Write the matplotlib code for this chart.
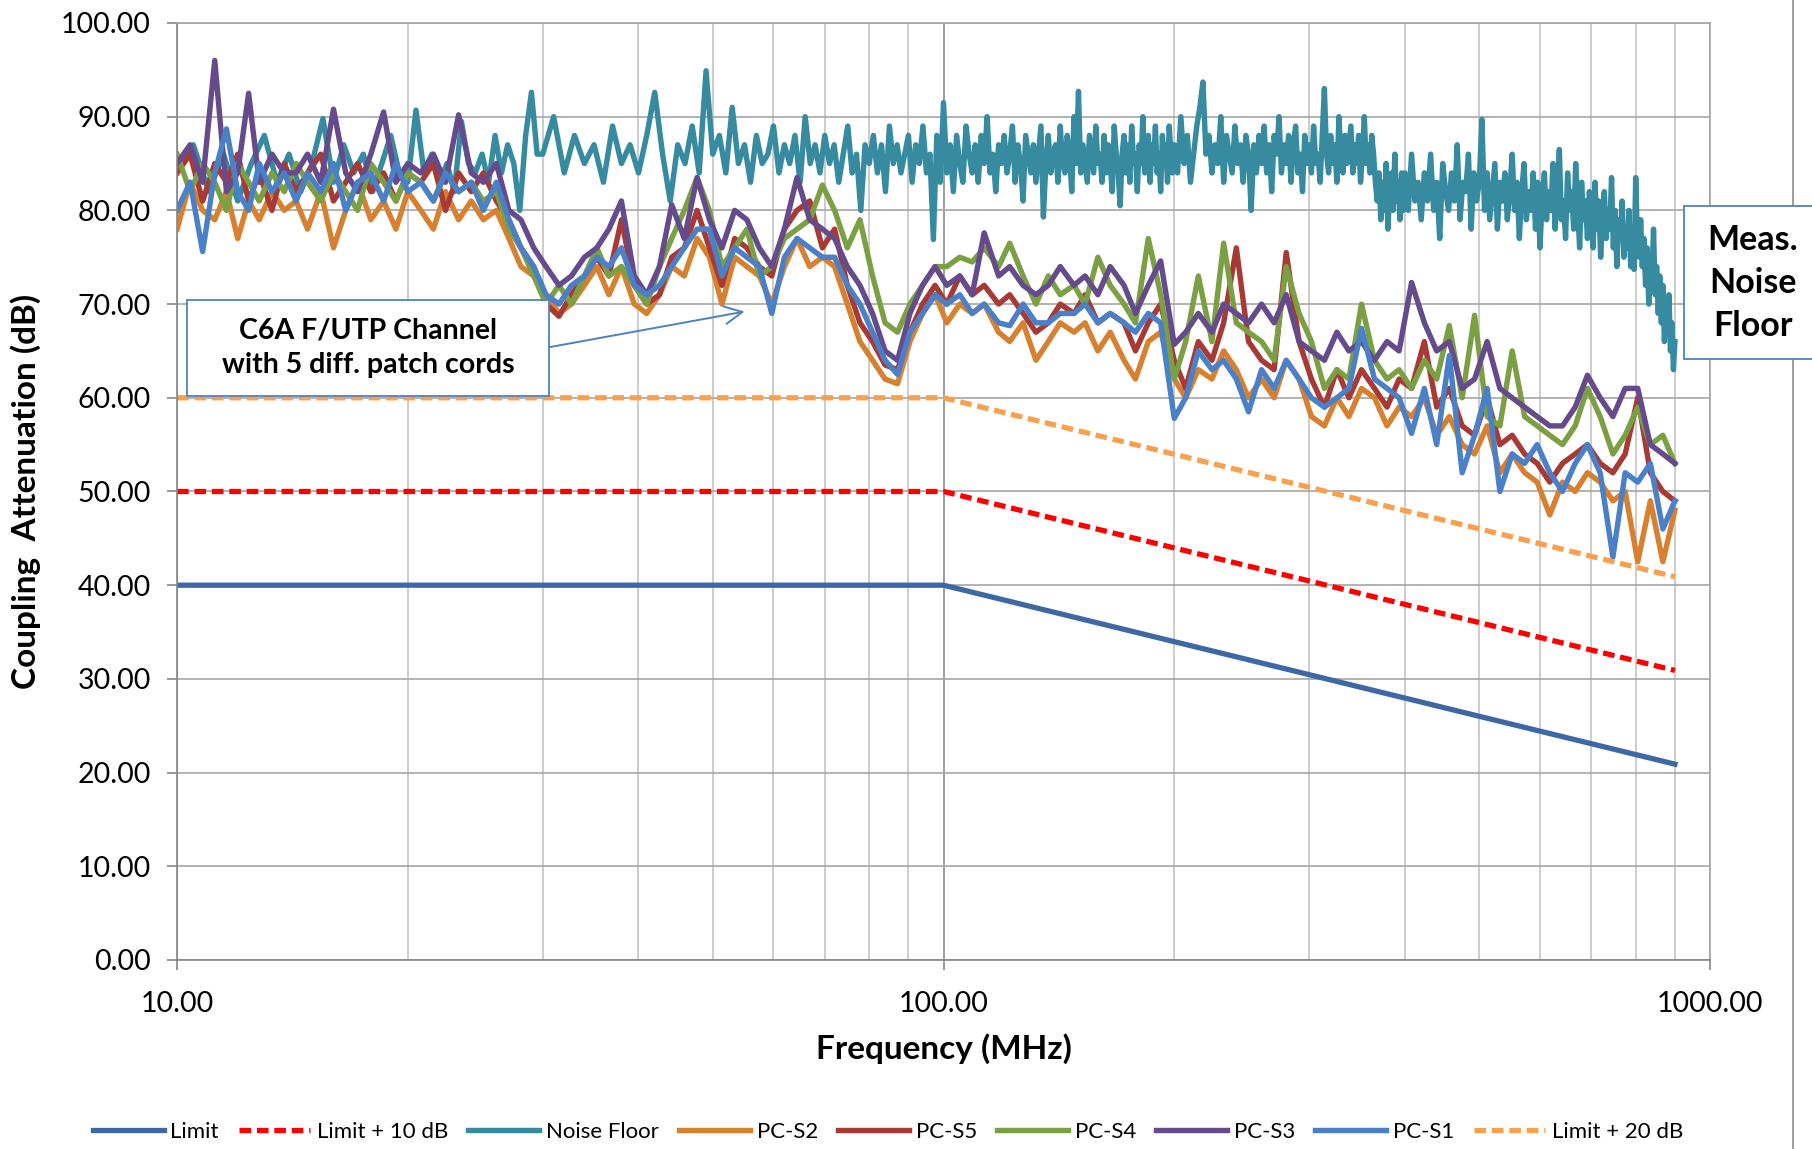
import matplotlib
matplotlib.use("Agg")
import matplotlib.pyplot as plt
from matplotlib.patches import Rectangle
from matplotlib.lines import Line2D
from matplotlib.ticker import FixedLocator, NullFormatter


# Frequency points (MHz) for the patch cord measurements
FREQ_PC = [
    10.0, 10.4, 10.8, 11.2, 11.6, 12.0, 12.4, 12.8, 13.3, 13.8,
    14.3, 14.8, 15.4, 16.0, 16.6, 17.2, 17.9, 18.6, 19.3, 20.0,
    20.8, 21.6, 22.4, 23.3, 24.2, 25.1, 26.1, 27.1, 28.1, 29.2,
    30.3, 31.5, 32.7, 34.0, 35.3, 36.6, 38.0, 39.5, 41.0, 42.6,
    44.2, 45.9, 47.7, 49.5, 51.4, 53.4, 55.4, 57.5, 59.7, 62.0,
    64.4, 66.9, 69.5, 72.1, 74.9, 77.8, 80.8, 83.9, 87.1, 90.4,
    93.9, 97.5, 101, 105, 109, 113, 118, 122, 127, 132,
    137, 142, 148, 153, 159, 165, 172, 178, 185, 192,
    200, 207, 215, 224, 232, 241, 250, 260, 270, 280,
    291, 302, 314, 326, 338, 351, 365, 379, 393, 408,
    424, 440, 457, 475, 493, 512, 532, 552, 573, 595,
    618, 642, 667, 692, 719, 747, 775, 805, 836, 868,
    900,
]

PC_S2 = [
    78, 83, 80, 79, 82, 77, 81, 79, 82, 80,
    81, 78, 82, 76, 80, 83, 79, 81, 78, 82,
    80, 78, 82, 79, 81, 79, 80, 77, 74, 73,
    71, 69, 70, 72, 74, 71, 74, 70, 69, 71,
    74, 73, 77, 75, 70, 75, 74, 73, 70, 74,
    77, 74, 75, 74, 70, 66, 64, 62, 61.5, 66,
    69, 71, 68, 70, 69, 70, 67, 66, 68, 64,
    66, 68, 67, 68, 65, 67, 64, 62, 66, 67,
    62, 60, 63, 62, 65, 63, 60, 62, 60, 64,
    62, 58, 57, 60, 58, 61, 60, 57, 59, 58,
    60, 56, 58, 55, 54, 57, 52, 54, 52, 51,
    47.5, 51, 50, 52, 51, 49, 50, 42.5, 49, 42.5,
    48,
]

PC_S5 = [
    84, 86, 81, 85, 83, 86, 81, 84, 80, 85,
    82, 84, 86, 81, 83, 85, 82, 84, 81, 84,
    83, 85, 80, 84, 82, 84, 81, 79, 76, 74,
    70, 68.7, 71, 73, 75, 73, 79, 72, 70, 71,
    75, 76, 80, 76, 72, 77, 76, 74, 73, 78,
    80, 81, 76, 78, 72, 68, 66, 63.5, 63, 67,
    70, 72, 70, 73, 71, 72, 70, 71, 69, 67,
    68, 70, 69, 71, 68, 69, 68, 65, 68, 70,
    64, 61, 66, 64, 68, 76, 66, 64, 63, 75.5,
    66, 62, 59, 63, 60, 63, 61, 59, 62, 61,
    66, 59, 61, 57, 56, 60, 55, 56, 54, 53,
    51, 53, 54, 55, 53, 52, 54, 60, 52, 50,
    49,
]

PC_S4 = [
    86, 82, 85, 83, 80, 85, 83, 81, 84, 82,
    85, 83, 81, 84, 82, 80, 85, 83, 81, 84,
    83, 81, 84, 82, 83, 81, 82, 78, 76, 73,
    70, 72, 70, 73, 76, 73, 74, 72, 70, 74,
    77, 80, 83.5, 80, 74, 76, 78, 73, 74, 77,
    78, 79, 82.7, 80, 76, 79, 73, 68, 67, 70,
    72, 74, 74, 75, 74.5, 76, 74, 76.5, 73, 70,
    73, 71, 72, 70, 75, 72, 70, 68, 77, 71,
    62, 66, 73, 66, 76.5, 68, 67, 66, 64, 74,
    69, 66, 61, 63, 62, 70, 64, 62, 63, 61,
    64, 62, 67.7, 60, 68.8, 58, 57, 65, 58, 57,
    56, 55, 57, 61, 58, 54, 56, 59, 55, 56,
    53,
]

PC_S3 = [
    85, 87, 83, 96, 82, 84, 92.5, 83, 86, 84,
    84, 86, 83, 90.8, 84, 82, 86, 90.5, 83, 85,
    84, 86, 83, 90.2, 84, 83, 85, 80, 79, 76,
    74, 72, 73, 75, 76, 78, 81, 73, 71, 74,
    80.6, 77, 83.5, 79, 76, 80, 79, 76, 74, 78,
    83.5, 79, 78, 77, 74, 72, 69, 65, 64, 69,
    72, 74, 72, 73, 71, 77.6, 73, 74, 72, 71,
    72, 74, 72, 73, 71, 74, 72, 69, 72, 74.6,
    65.7, 67, 69, 67, 70, 69, 68, 70, 68, 71,
    66, 65, 64, 67, 65, 66, 64, 66, 65, 72.3,
    68, 65, 66, 61, 62, 66, 61, 60, 59, 58,
    57, 57, 59, 62.4, 60, 58, 61, 61, 55, 54,
    53,
]

PC_S1 = [
    80, 83, 75.6, 84, 88.7, 82, 80, 85, 82, 84,
    81, 84, 82, 85, 80, 83, 84, 81, 85, 82,
    83, 81, 84, 82, 83, 80, 83, 79, 76, 74,
    71, 70, 72, 73, 75, 74, 76, 72, 71, 72,
    74, 76, 78, 78, 73, 76, 75, 74, 69, 75,
    77, 76, 75, 75, 72, 70, 67, 64, 62.5, 67,
    69, 71, 70, 71, 69, 70, 68, 67.7, 70, 68,
    68, 69, 69, 70, 68, 69, 68, 67, 69, 68,
    57.8, 60, 65, 63, 64, 62, 58.5, 63, 61, 64,
    62, 60, 59, 60, 61, 67.4, 62, 61, 60, 56.2,
    61, 55, 64.5, 52, 56, 61, 50, 54, 53, 55,
    52, 50, 53, 55, 52, 43, 52, 51, 53, 46,
    49,
]

# Noise floor sweep: 0.5 MHz steps to 30, 1 MHz to 200, 2 MHz to 400, 4 MHz to 900
FREQ_NOISE = [
    10.0, 10.5, 11.0, 11.5, 12.0, 12.5, 13.0, 13.5, 14.0, 14.5,
    15.0, 15.5, 16.0, 16.5, 17.0, 17.5, 18.0, 18.5, 19.0, 19.5,
    20.0, 20.5, 21.0, 21.5, 22.0, 22.5, 23.0, 23.5, 24.0, 24.5,
    25.0, 25.5, 26.0, 26.5, 27.0, 27.5, 28.0, 28.5, 29.0, 29.5,
    30, 31, 32, 33, 34, 35, 36, 37, 38, 39,
    40, 41, 42, 43, 44, 45, 46, 47, 48, 49,
    50, 51, 52, 53, 54, 55, 56, 57, 58, 59,
    60, 61, 62, 63, 64, 65, 66, 67, 68, 69,
    70, 71, 72, 73, 74, 75, 76, 77, 78, 79,
    80, 81, 82, 83, 84, 85, 86, 87, 88, 89,
    90, 91, 92, 93, 94, 95, 96, 97, 98, 99,
    100, 101, 102, 103, 104, 105, 106, 107, 108, 109,
    110, 111, 112, 113, 114, 115, 116, 117, 118, 119,
    120, 121, 122, 123, 124, 125, 126, 127, 128, 129,
    130, 131, 132, 133, 134, 135, 136, 137, 138, 139,
    140, 141, 142, 143, 144, 145, 146, 147, 148, 149,
    150, 151, 152, 153, 154, 155, 156, 157, 158, 159,
    160, 161, 162, 163, 164, 165, 166, 167, 168, 169,
    170, 171, 172, 173, 174, 175, 176, 177, 178, 179,
    180, 181, 182, 183, 184, 185, 186, 187, 188, 189,
    190, 191, 192, 193, 194, 195, 196, 197, 198, 199,
    200, 202, 204, 206, 208, 210, 212, 214, 216, 218,
    220, 222, 224, 226, 228, 230, 232, 234, 236, 238,
    240, 242, 244, 246, 248, 250, 252, 254, 256, 258,
    260, 262, 264, 266, 268, 270, 272, 274, 276, 278,
    280, 282, 284, 286, 288, 290, 292, 294, 296, 298,
    300, 302, 304, 306, 308, 310, 312, 314, 316, 318,
    320, 322, 324, 326, 328, 330, 332, 334, 336, 338,
    340, 342, 344, 346, 348, 350, 352, 354, 356, 358,
    360, 362, 364, 366, 368, 370, 372, 374, 376, 378,
    380, 382, 384, 386, 388, 390, 392, 394, 396, 398,
    400, 404, 408, 412, 416,
    420, 424, 428, 432, 436, 440, 444, 448, 452, 456,
    460, 464, 468, 472, 476, 480, 484, 488, 492, 496,
    500, 504, 508, 512, 516, 520, 524, 528, 532, 536,
    540, 544, 548, 552, 556, 560, 564, 568, 572, 576,
    580, 584, 588, 592, 596, 600, 604, 608, 612, 616,
    620, 624, 628, 632, 636, 640, 644, 648, 652, 656,
    660, 664, 668, 672, 676, 680, 684, 688, 692, 696,
    700, 704, 708, 712, 716, 720, 724, 728, 732, 736,
    740, 744, 748, 752, 756, 760, 764, 768, 772, 776,
    780, 784, 788, 792, 796, 800, 804, 808, 812, 816,
    820, 824, 828, 832, 836, 840, 844, 848, 852, 856,
    860, 864, 868, 872, 876, 880, 884, 888, 892, 896,
    900,
]

NOISE_FLOOR = [
    84, 87, 82, 86, 81, 85, 88, 83, 86, 82,
    85, 89.8, 83, 87, 84, 86, 82, 85, 88, 84,
    83, 90.7, 84, 86, 83, 85, 82, 89.5, 85, 84,
    86, 83, 88, 84, 87, 85, 80, 88, 92.6, 86,
    86, 90, 84, 88, 85, 87, 83, 89, 85, 87,
    84, 88, 92.6, 86, 81, 87, 85, 89, 84, 94.9,
    86, 88, 84, 91, 85, 87, 83, 88, 85, 86,
    89, 84, 87, 85, 88, 83, 90, 85, 87, 84,
    88, 85, 87, 83, 86, 89, 84, 86, 80, 87,
    85, 88, 84, 87, 82, 89, 85, 87, 84, 86,
    88, 83, 87, 85, 89, 84, 86, 76.9, 88, 83,
    91.5, 84, 87, 82, 88, 85, 83, 89, 86, 84,
    87, 83, 88, 85, 90, 84, 86, 82, 87, 85,
    88, 84, 86, 89, 83, 87, 85, 81, 88, 86,
    84, 87, 83, 86, 89, 79.3, 85, 88, 84, 86,
    87, 83, 89, 85, 84, 88, 86, 82, 90, 85,
    92.7, 84, 87, 85, 83, 88, 86, 84, 89, 85,
    86, 83, 88, 84, 87, 85, 82, 89, 86, 84,
    80.5, 86, 88, 84, 87, 83, 89, 85, 86, 82,
    87, 85, 90, 84, 86, 88, 83, 87, 85, 89,
    84, 86, 82, 88, 85, 87, 83, 89, 86, 84,
    87, 84, 90, 85, 88, 83, 86, 89, 91, 93.7,
    86, 88, 84, 87, 85, 90, 83, 88, 86, 84,
    89, 85, 87, 83, 88, 86, 80, 87, 84, 88,
    85, 89, 84, 87, 82, 88, 86, 90, 84, 87,
    85, 88, 83, 87, 89, 84, 86, 82, 88, 85,
    87, 84, 89, 85, 86, 83, 88, 93, 86, 84,
    88, 85, 87, 83, 90, 86, 84, 88, 85, 87,
    89, 84, 87, 85, 88, 83, 86, 90, 85, 87,
    84, 88, 86, 83, 81, 84, 79, 83, 80, 85,
    78, 82, 84, 80, 86, 81, 83, 79, 84, 80,
    84, 80, 86, 81, 83,
    79, 84, 81, 86, 80, 83, 77, 85, 82, 80,
    84, 81, 87, 79, 83, 82, 86, 78, 84, 81,
    83, 89.7, 80, 84, 79, 82, 85, 78, 83, 81,
    84, 79, 82, 86, 80, 83, 77, 82, 85, 79,
    82, 80, 84, 78, 83, 76, 81, 84, 79, 82,
    80, 85, 78, 82, 86.5, 79, 81, 77, 84, 80,
    82, 78, 85, 80, 76, 83, 79, 81, 77, 82,
    80, 76, 83, 78, 81, 75, 79, 82, 77, 80,
    78, 83.5, 76, 80, 74, 79, 77, 81, 75, 78,
    76, 80, 74, 78, 73.7, 83.5, 77, 75, 79, 74,
    77, 72, 76, 70, 75, 73, 78, 71, 74, 69,
    73, 68, 72, 66, 70, 67, 71, 65, 68, 63,
    66,
]

# Limit lines (corner points)
FREQ_LIMIT = [10, 100, 900]
LIMIT = [40, 40, 20.9]
LIMIT_10 = [50, 50, 30.9]
LIMIT_20 = [60, 60, 40.9]

X_TICKS = [10, 100, 1000]
Y_TICKS = [0, 10, 20, 30, 40, 50, 60, 70, 80, 90, 100]


plt.rcParams["font.family"] = ["Lato", "DejaVu Sans"]

fig = plt.figure(figsize=(18.12, 11.49), dpi=100)
ax = fig.add_axes([0.0977, 0.1645, 0.8460, 0.8155])

lw = 3.9
ax.plot(FREQ_LIMIT, LIMIT, color="#3D67A5", lw=3.8, label="Limit")
ax.plot(FREQ_LIMIT, LIMIT_10, color="#FF0000", lw=3.8, dashes=(2.2, 1.1), label="Limit + 10 dB")
ax.plot(FREQ_NOISE, NOISE_FLOOR, color="#378BA1", lw=lw, label="Noise Floor")
ax.plot(FREQ_PC, PC_S2, color="#D7802F", lw=lw, label="PC-S2")
ax.plot(FREQ_PC, PC_S5, color="#A83A35", lw=lw, label="PC-S5")
ax.plot(FREQ_PC, PC_S4, color="#7BA043", lw=lw, label="PC-S4")
ax.plot(FREQ_PC, PC_S3, color="#664B8C", lw=lw, label="PC-S3")
ax.plot(FREQ_PC, PC_S1, color="#4A80C8", lw=lw, label="PC-S1")
ax.plot(FREQ_LIMIT, LIMIT_20, color="#F9A04E", lw=3.8, dashes=(2.2, 1.1), label="Limit + 20 dB")

ax.set_xscale("log")
ax.set_xlim(10, 1000)
ax.set_ylim(0, 100)

ax.xaxis.set_major_locator(FixedLocator(X_TICKS))
ax.set_xticklabels(["%.2f" % v for v in X_TICKS])
minor = [m * d for d in (10, 100) for m in range(2, 10)]
ax.xaxis.set_minor_locator(FixedLocator(minor))
ax.xaxis.set_minor_formatter(NullFormatter())
ax.set_yticks(Y_TICKS)
ax.set_yticklabels(["%.2f" % v for v in Y_TICKS])

ax.grid(True, which="major", axis="y", color="#A6A6A6", lw=1.2)
ax.grid(True, which="major", axis="x", color="#8C8C8C", lw=1.2)
ax.grid(True, which="minor", axis="x", color="#C4C4C4", lw=1.2)
ax.set_axisbelow(True)

for s in ax.spines.values():
    s.set_color("#A6A6A6")
    s.set_linewidth(1.2)
ax.spines["left"].set_color("#868686")
ax.spines["bottom"].set_color("#868686")

ax.tick_params(axis="both", which="major", labelsize=20.5, colors="#868686",
               labelcolor="black", length=7, width=1.2)
ax.tick_params(axis="x", which="major", pad=15)
ax.tick_params(axis="y", which="major", pad=12)
ax.tick_params(axis="x", which="minor", length=0)

ax.set_xlabel("Frequency (MHz)", fontsize=24, fontweight="bold", labelpad=12)
ax.set_ylabel("Coupling  Attenuation (dB)", fontsize=24, fontweight="bold", labelpad=14)

# Annotation box with arrow
ax.add_patch(Rectangle((0.0065, 0.602), 0.236, 0.102, transform=ax.transAxes,
                       facecolor="white", edgecolor="#4F81BD", lw=1.3, zorder=5))
ax.text(0.1246, 0.653, "C6A F/UTP Channel\nwith 5 diff. patch cords",
        transform=ax.transAxes, ha="center", va="center", fontsize=20.5,
        fontweight="bold", linespacing=1.4, zorder=6)
ax.annotate("", xy=(55, 69.2), xytext=(30.6, 65.4),
            arrowprops=dict(arrowstyle="->", color="#4F81BD", lw=1.4,
                            mutation_scale=32, shrinkA=0, shrinkB=0), zorder=6)

# Chart area border on the right
fig.add_artist(Line2D([0.9895, 0.9895], [0.0, 1.0], color="#8C8C8C", lw=1.2))

# Noise floor label box (runs past the right edge)
fig.add_artist(Rectangle((0.9294, 0.6876), 0.2, 0.1332, transform=fig.transFigure,
                         facecolor="white", edgecolor="#4F81BD", lw=1.3, zorder=5))
fig.text(0.9672, 0.7537, "Meas.\nNoise\nFloor", ha="center", va="center",
         fontsize=24.5, fontweight="bold", linespacing=1.42, zorder=6)

handles, labels = ax.get_legend_handles_labels()
fig.legend(handles, labels, loc="center", bbox_to_anchor=(0.49, 0.0148), ncol=9,
           frameon=False, fontsize=16, handlelength=3.2, handletextpad=0.3,
           columnspacing=0.9)

fig.savefig("out.png", dpi=100)
